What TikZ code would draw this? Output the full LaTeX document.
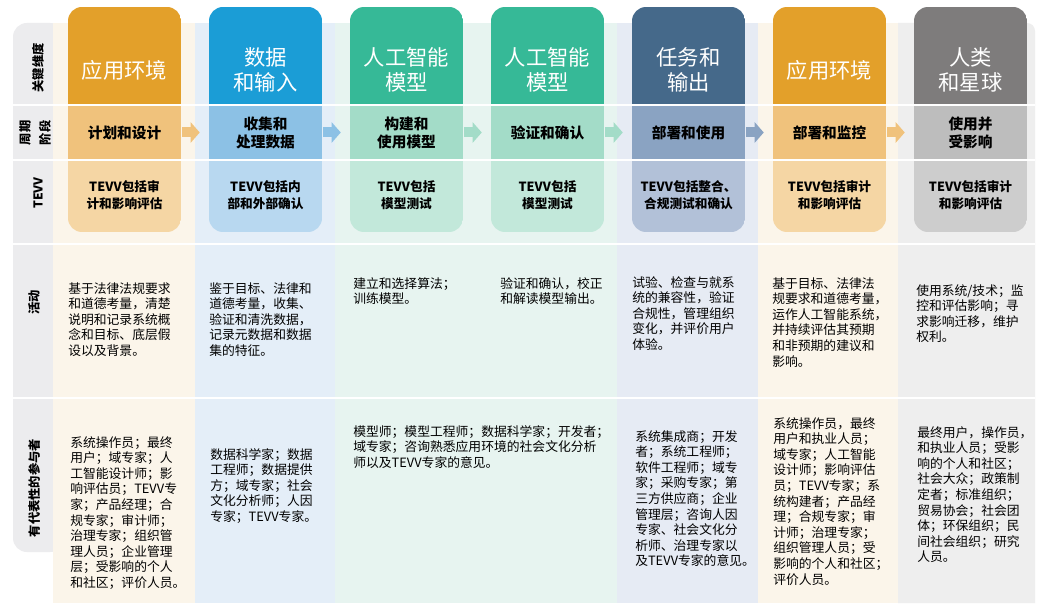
\documentclass[tikz,border=0pt]{standalone}
\usepackage{fontspec}
\setmainfont{Noto Sans CJK SC}
\usepackage{tikz}
\usetikzlibrary{arrows.meta,positioning,calc}
\definecolor{hdrA}{RGB}{227,160,42}
\definecolor{midA}{RGB}{240,194,124}
\definecolor{lowA}{RGB}{245,214,164}
\definecolor{hdrB}{RGB}{27,157,214}
\definecolor{midB}{RGB}{140,193,229}
\definecolor{lowB}{RGB}{184,216,240}
\definecolor{hdrC}{RGB}{54,185,151}
\definecolor{midC}{RGB}{163,220,200}
\definecolor{lowC}{RGB}{194,232,218}
\definecolor{hdrD}{RGB}{69,105,138}
\definecolor{midD}{RGB}{138,163,194}
\definecolor{lowD}{RGB}{178,193,216}
\definecolor{hdrE}{RGB}{126,124,124}
\definecolor{midE}{RGB}{189,189,189}
\definecolor{lowE}{RGB}{205,205,205}
\definecolor{bandcream}{RGB}{251,245,234}
\definecolor{bandblue}{RGB}{228,238,248}
\definecolor{bandgreen}{RGB}{231,244,240}
\definecolor{bandslate}{RGB}{230,235,244}
\definecolor{bandgray}{RGB}{238,238,238}
\definecolor{bandlabel}{RGB}{236,236,238}

\begin{document}
\begin{tikzpicture}[x=0.75pt,y=-0.75pt,
  headtext/.style={text=white,align=center,font=\fontsize{16}{18.75}\selectfont},
  phasebox/.style={minimum width=84.75pt,minimum height=41.25pt,inner sep=0pt,
    align=center,font=\bfseries\fontsize{11}{13.5}\selectfont},
  tevvtext/.style={align=center,font=\bfseries\fontsize{9.5}{12.75}\selectfont},
  bodytext/.style={anchor=north west,align=left,inner sep=0pt,
    font=\fontsize{9.6}{11.7}\selectfont},
  sidelabel/.style={rotate=90,align=center,font=\bfseries\fontsize{9.2}{15}\selectfont},
  flowarrow/.style={line width=7.5pt,-{Triangle[length=6.75pt,width=15pt]},
    shorten <=0.75pt,shorten >=6.75pt}]
  \useasboundingbox (0,0) rectangle (1041,613);
  \fill[white] (0,0) rectangle (1041,613);
  % background bands
  \fill[bandlabel,rounded corners=10.5pt] (13,23) rectangle (64,552);
  \fill[bandcream] (53,23) rectangle (195,603);
  \fill[bandblue] (195,23) rectangle (335,603);
  \fill[bandgreen] (335,23) rectangle (617,603);
  \fill[bandslate] (617,23) rectangle (758,603);
  \fill[bandcream] (758,23) rectangle (898,603);
  \fill[bandgray] (898,603) -- (898,23) [rounded corners=6pt] -- (1035,23)
    [sharp corners] -- (1035,603) -- cycle;
  \draw[white,line width=1.2pt] (13,244) -- (1035,244);
  \draw[white,line width=1.2pt] (13,398) -- (1035,398);
  % stage cards
  \foreach \i/\col/\head/\mid/\tevv in {
      0/A/{应用环境}/{计划和设计}/{TEVV包括审\\计和影响评估},
      1/B/{数据\\和输入}/{收集和\\处理数据}/{TEVV包括内\\部和外部确认},
      2/C/{人工智能\\模型}/{构建和\\使用模型}/{TEVV包括\\模型测试},
      3/C/{人工智能\\模型}/{验证和确认}/{TEVV包括\\模型测试},
      4/D/{任务和\\输出}/{部署和使用}/{TEVV包括整合、\\合规测试和确认},
      5/A/{应用环境}/{部署和监控}/{TEVV包括审计\\和影响评估},
      6/E/{人类\\和星球}/{使用并\\受影响}/{TEVV包括审计\\和影响评估}}{
    \pgfmathsetmacro{\cx}{124.5+141*\i}
    \begin{scope}
      \clip[rounded corners=10.5pt] (\cx-56.5,7) rectangle (\cx+56.5,232);
      \fill[hdr\col] (\cx-56.5,7) rectangle (\cx+56.5,105);
      \fill[mid\col] (\cx-56.5,105) rectangle (\cx+56.5,160);
      \fill[low\col] (\cx-56.5,160) rectangle (\cx+56.5,232);
    \end{scope}
    \node[headtext] (h\i) at (\cx,70) {\head};
    \node[phasebox] (m\i) at (\cx,132.5) {\mid};
    \node[tevvtext] (t\i) at (\cx,195) {\tevv};
  }
  \draw[white,line width=1.1pt] (13,105) -- (1035,105);
  \draw[white,line width=1.1pt] (13,160) -- (1035,160);
  % lifecycle arrows
  \foreach \a/\b/\col in {0/1/A,1/2/B,2/3/C,3/4/C,4/5/D,5/6/A}
    \draw[flowarrow,mid\col] (m\a.east) -- (m\b.west);
  % row labels
  \node[sidelabel] (lbkey) at (38,68) {关键维度};
  \node[sidelabel] (lbphase) at (35,133) {周期\\阶段};
  \node[sidelabel] (lbtevv) at (38,193) {TEVV};
  \node[sidelabel] (lbact) at (34,302) {活动};
  \node[sidelabel] (lbstk) at (34,488) {有代表性的参与者};
  % activities
  \node[bodytext] (act1) at (68,282) {基于法律法规要求\\和道德考量，清楚\\说明和记录系统概\\念和目标、底层假\\设以及背景。};
  \node[bodytext] (act2) at (209,282) {鉴于目标、法律和\\道德考量，收集、\\验证和清洗数据，\\记录元数据和数据\\集的特征。};
  \node[bodytext] (act3) at (353,277) {建立和选择算法；\\训练模型。};
  \node[bodytext] (act4) at (500,277) {验证和确认，校正\\和解读模型输出。};
  \node[bodytext] (act5) at (632,276) {试验、检查与就系\\统的兼容性，验证\\合规性，管理组织\\变化，并评价用户\\体验。};
  \node[bodytext] (act6) at (772,277) {基于目标、法律法\\规要求和道德考量，\\运作人工智能系统，\\并持续评估其预期\\和非预期的建议和\\影响。};
  \node[bodytext] (act7) at (916,284) {使用系统/技术；监\\控和评估影响；寻\\求影响迁移，维护\\权利。};
  % stakeholders
  \node[bodytext] (stk1) at (70,436) {系统操作员；最终\\用户；域专家；人\\工智能设计师；影\\响评估员；TEVV专\\家；产品经理；合\\规专家；审计师；\\治理专家；组织管\\理人员；企业管理\\层；受影响的个人\\和社区；评价人员。};
  \node[bodytext] (stk2) at (210,448) {数据科学家；数据\\工程师；数据提供\\方；域专家；社会\\文化分析师；人因\\专家；TEVV专家。};
  \node[bodytext] (stk3) at (353,425) {模型师；模型工程师；数据科学家；开发者；\\域专家；咨询熟悉应用环境的社会文化分析\\师以及TEVV专家的意见。};
  \node[bodytext] (stk5) at (635,430) {系统集成商；开发\\者；系统工程师；\\软件工程师；域专\\家；采购专家；第\\三方供应商；企业\\管理层；咨询人因\\专家、社会文化分\\析师、治理专家以\\及TEVV专家的意见。};
  \node[bodytext] (stk6) at (773,417) {系统操作员，最终\\用户和执业人员；\\域专家；人工智能\\设计师；影响评估\\员；TEVV专家；系\\统构建者；产品经\\理；合规专家；审\\计师；治理专家；\\组织管理人员；受\\影响的个人和社区；\\评价人员。};
  \node[bodytext] (stk7) at (917,426) {最终用户，操作员，\\和执业人员；受影\\响的个人和社区；\\社会大众；政策制\\定者；标准组织；\\贸易协会；社会团\\体；环保组织；民\\间社会组织；研究\\人员。};
\end{tikzpicture}
\end{document}
